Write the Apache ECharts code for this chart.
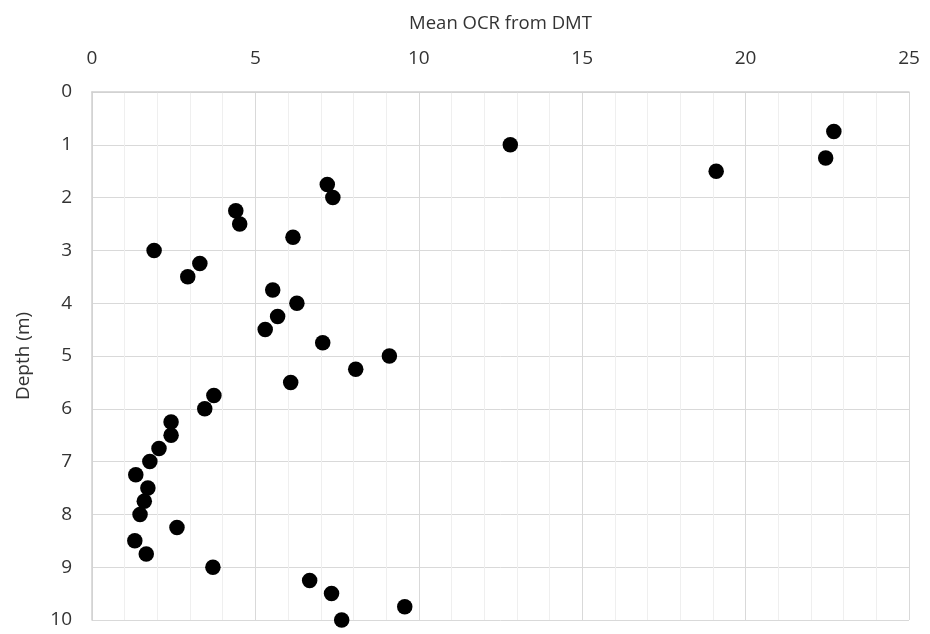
<!DOCTYPE html>
<html>
<head>
<meta charset="utf-8">
<script src="https://cdn.jsdelivr.net/npm/echarts@6/dist/echarts.min.js"></script>
<style>
  html, body { margin: 0; padding: 0; background: #fff; }
  #chart { width: 930px; height: 634px; }
</style>
</head>
<body>
<div id="chart"></div>
<script>
// Mean OCR values derived from DMT soundings, by depth
const depth = [0.75, 1.0, 1.25, 1.5, 1.75, 2.0, 2.25, 2.5, 2.75, 3.0, 3.25, 3.5, 3.75, 4.0, 4.25, 4.5, 4.75, 5.0, 5.25, 5.5,
               5.75, 6.0, 6.25, 6.5, 6.75, 7.0, 7.25, 7.5, 7.75, 8.0, 8.25, 8.5, 8.75, 9.0, 9.25, 9.5, 9.75, 10.0];
const meanOCR = [22.7, 12.8, 22.45, 19.1, 7.2, 7.37, 4.4, 4.52, 6.15, 1.9, 3.3, 2.93, 5.53, 6.27, 5.68, 5.3, 7.06, 9.1, 8.07, 6.08,
                 3.73, 3.45, 2.42, 2.42, 2.05, 1.77, 1.34, 1.71, 1.6, 1.47, 2.6, 1.31, 1.66, 3.7, 6.66, 7.33, 9.57, 7.64];
const xTicks = [0, 5, 10, 15, 20, 25];
const yTicks = [0, 1, 2, 3, 4, 5, 6, 7, 8, 9, 10];

const points = meanOCR.map((v, i) => [v, depth[i]]);
const font = '"Open Sans", "Liberation Sans", sans-serif';
const textColor = '#333333';

const chart = echarts.init(document.getElementById('chart'), null, { renderer: 'canvas' });
chart.setOption({
  animation: false,
  backgroundColor: '#ffffff',
  grid: { left: 92, right: 21, top: 92, bottom: 14, containLabel: false, outerBoundsMode: 'none' },
  xAxis: {
    type: 'value',
    position: 'top',
    min: xTicks[0],
    max: xTicks[xTicks.length - 1],
    interval: 5,
    name: 'Mean OCR from DMT',
    nameLocation: 'middle',
    nameGap: 59,
    nameTextStyle: { fontFamily: font, fontSize: 18.5, color: textColor },
    axisLine: { show: true, lineStyle: { color: '#d0d0d0', width: 1.5 } },
    axisTick: { show: false },
    axisLabel: { fontFamily: font, fontSize: 19, color: textColor, margin: 24 },
    splitLine: { show: true, lineStyle: { color: '#d9d9d9', width: 1 } },
    minorTick: { show: false, splitNumber: 5 },
    minorSplitLine: { show: true, lineStyle: { color: '#efefef', width: 1 } }
  },
  yAxis: {
    type: 'value',
    inverse: true,
    min: yTicks[0],
    max: yTicks[yTicks.length - 1],
    interval: 1,
    name: 'Depth (m)',
    nameLocation: 'middle',
    nameGap: 59,
    nameRotate: 90,
    nameTextStyle: { fontFamily: font, fontSize: 19, color: textColor },
    axisLine: { show: true, lineStyle: { color: '#d0d0d0', width: 1.5 } },
    axisTick: { show: false },
    axisLabel: { fontFamily: font, fontSize: 19, color: textColor, margin: 20 },
    splitLine: { show: true, lineStyle: { color: '#d9d9d9', width: 1 } }
  },
  series: [{
    type: 'scatter',
    data: points,
    symbol: 'circle',
    symbolSize: 15.5,
    itemStyle: { color: '#000000', opacity: 1 },
    clip: false
  }]
});
</script>
</body>
</html>
